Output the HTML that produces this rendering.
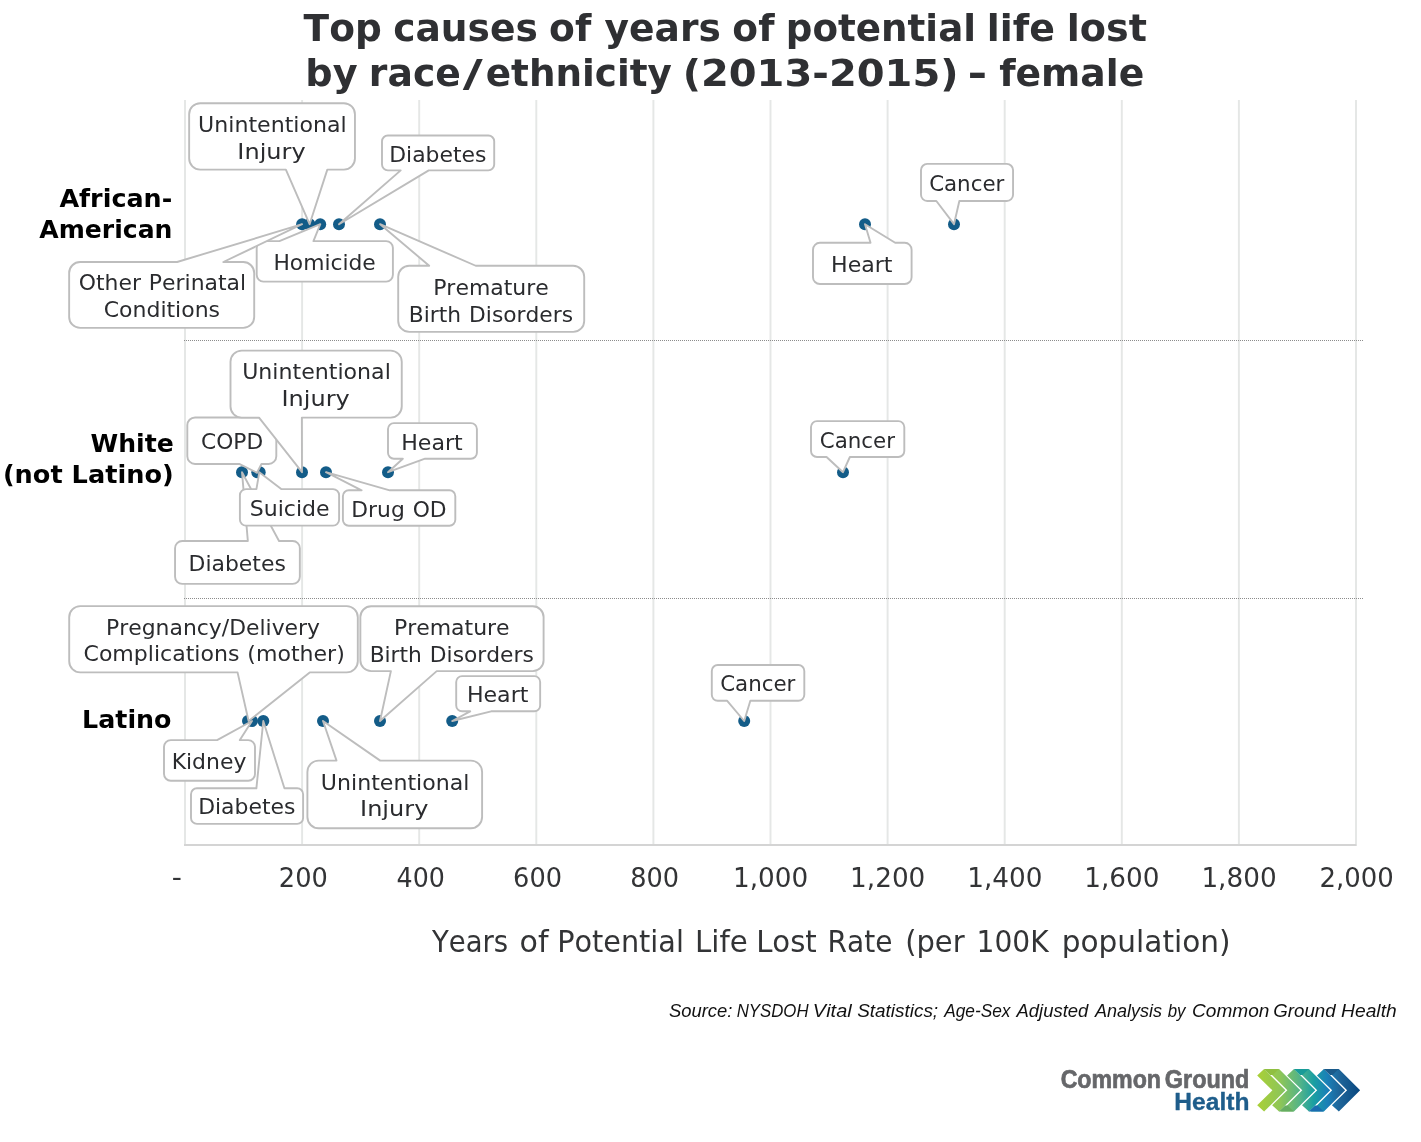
<!DOCTYPE html>
<html lang="en">
<head>
<meta charset="utf-8">
<title>Top causes of years of potential life lost by race/ethnicity (2013-2015) - female</title>
<style>
html, body { margin: 0; padding: 0; background: #ffffff; }
body { width: 1421px; height: 1142px; overflow: hidden; }
svg { display: block; }
svg text { font-kerning: none; font-variant-ligatures: none; font-feature-settings: "kern" 0, "liga" 0, "clig" 0; white-space: pre; }
</style>
</head>
<body>
<svg width="1421" height="1142" viewBox="0 0 1421 1142">
<rect x="0" y="0" width="1421" height="1142" fill="#ffffff"/>
<line x1="185.00" y1="100.0" x2="185.00" y2="845.9" stroke="#e5e7e6" stroke-width="1.95"/>
<line x1="302.10" y1="100.0" x2="302.10" y2="845.9" stroke="#e5e7e6" stroke-width="1.95"/>
<line x1="419.20" y1="100.0" x2="419.20" y2="845.9" stroke="#e5e7e6" stroke-width="1.95"/>
<line x1="536.30" y1="100.0" x2="536.30" y2="845.9" stroke="#e5e7e6" stroke-width="1.95"/>
<line x1="653.40" y1="100.0" x2="653.40" y2="845.9" stroke="#e5e7e6" stroke-width="1.95"/>
<line x1="770.50" y1="100.0" x2="770.50" y2="845.9" stroke="#e5e7e6" stroke-width="1.95"/>
<line x1="887.60" y1="100.0" x2="887.60" y2="845.9" stroke="#e5e7e6" stroke-width="1.95"/>
<line x1="1004.70" y1="100.0" x2="1004.70" y2="845.9" stroke="#e5e7e6" stroke-width="1.95"/>
<line x1="1121.80" y1="100.0" x2="1121.80" y2="845.9" stroke="#e5e7e6" stroke-width="1.95"/>
<line x1="1238.90" y1="100.0" x2="1238.90" y2="845.9" stroke="#e5e7e6" stroke-width="1.95"/>
<line x1="1356.00" y1="100.0" x2="1356.00" y2="845.9" stroke="#e5e7e6" stroke-width="1.95"/>
<line x1="184.00" y1="845.0" x2="1356.30" y2="845.0" stroke="#d4d4d4" stroke-width="2.2"/>
<line x1="184" y1="340.5" x2="1363" y2="340.5" stroke="#8c8c8c" stroke-width="1" stroke-dasharray="1 1"/>
<line x1="184" y1="598.5" x2="1363" y2="598.5" stroke="#8c8c8c" stroke-width="1" stroke-dasharray="1 1"/>
<circle cx="302.10" cy="224.20" r="6" fill="#135c88"/>
<circle cx="309.50" cy="224.20" r="6" fill="#135c88"/>
<circle cx="320.20" cy="224.20" r="6" fill="#135c88"/>
<circle cx="339.00" cy="224.20" r="6" fill="#135c88"/>
<circle cx="380.00" cy="224.20" r="6" fill="#135c88"/>
<circle cx="865.00" cy="224.20" r="6" fill="#135c88"/>
<circle cx="954.00" cy="224.20" r="6" fill="#135c88"/>
<path d="M200.22,103.20 L343.88,103.20 A11.07,11.07 0 0 1 354.95,114.27 L354.95,158.53 A11.07,11.07 0 0 1 343.88,169.60 L327.32,169.60 L309.60,224.20 L285.87,169.60 L200.22,169.60 A11.07,11.07 0 0 1 189.15,158.53 L189.15,114.27 A11.07,11.07 0 0 1 200.22,103.20 Z" fill="#fff" stroke="#bdbdbd" stroke-width="1.9" stroke-linejoin="round"/>
<text x="198.13" y="131.60" font-family='"DejaVu Sans", "Liberation Sans", sans-serif' font-weight="normal" font-style="normal" font-size="22.0" fill="#2a2b2e" textLength="148.59" lengthAdjust="spacingAndGlyphs">Unintentional</text>
<text x="237.39" y="158.60" font-family='"DejaVu Sans", "Liberation Sans", sans-serif' font-weight="normal" font-style="normal" font-size="22.0" fill="#2a2b2e" textLength="68.27" lengthAdjust="spacingAndGlyphs">Injury</text>
<path d="M387.82,135.50 L488.38,135.50 A5.82,5.82 0 0 1 494.20,141.32 L494.20,164.58 A5.82,5.82 0 0 1 488.38,170.40 L428.75,170.40 L339.00,224.20 L400.70,170.40 L387.82,170.40 A5.82,5.82 0 0 1 382.00,164.58 L382.00,141.32 A5.82,5.82 0 0 1 387.82,135.50 Z" fill="#fff" stroke="#bdbdbd" stroke-width="1.9" stroke-linejoin="round"/>
<text x="389.20" y="161.60" font-family='"DejaVu Sans", "Liberation Sans", sans-serif' font-weight="normal" font-style="normal" font-size="22.0" fill="#2a2b2e" textLength="97.32" lengthAdjust="spacingAndGlyphs">Diabetes</text>
<path d="M263.45,241.10 L279.40,241.10 L320.30,224.20 L313.45,241.10 L386.15,241.10 A6.75,6.75 0 0 1 392.90,247.85 L392.90,274.85 A6.75,6.75 0 0 1 386.15,281.60 L263.45,281.60 A6.75,6.75 0 0 1 256.70,274.85 L256.70,247.85 A6.75,6.75 0 0 1 263.45,241.10 Z" fill="#fff" stroke="#bdbdbd" stroke-width="1.9" stroke-linejoin="round"/>
<text x="273.41" y="269.60" font-family='"DejaVu Sans", "Liberation Sans", sans-serif' font-weight="normal" font-style="normal" font-size="22.0" fill="#2a2b2e" textLength="102.40" lengthAdjust="spacingAndGlyphs">Homicide</text>
<path d="M80.13,262.00 L177.10,262.00 L302.10,224.20 L223.36,262.00 L243.22,262.00 A10.98,10.98 0 0 1 254.20,272.98 L254.20,316.92 A10.98,10.98 0 0 1 243.22,327.90 L80.13,327.90 A10.98,10.98 0 0 1 69.15,316.92 L69.15,272.98 A10.98,10.98 0 0 1 80.13,262.00 Z" fill="#fff" stroke="#bdbdbd" stroke-width="1.9" stroke-linejoin="round"/>
<text x="78.75" y="289.50" font-family='"DejaVu Sans", "Liberation Sans", sans-serif' font-weight="normal" font-style="normal" font-size="22.0" fill="#2a2b2e" textLength="167.28" lengthAdjust="spacingAndGlyphs" style="word-spacing:0.99px">Other Perinatal</text>
<text x="103.74" y="316.65" font-family='"DejaVu Sans", "Liberation Sans", sans-serif' font-weight="normal" font-style="normal" font-size="22.0" fill="#2a2b2e" textLength="116.31" lengthAdjust="spacingAndGlyphs">Conditions</text>
<path d="M409.22,265.75 L429.20,265.75 L380.10,224.20 L475.70,265.75 L573.18,265.75 A11.02,11.02 0 0 1 584.20,276.77 L584.20,320.88 A11.02,11.02 0 0 1 573.18,331.90 L409.22,331.90 A11.02,11.02 0 0 1 398.20,320.88 L398.20,276.77 A11.02,11.02 0 0 1 409.22,265.75 Z" fill="#fff" stroke="#bdbdbd" stroke-width="1.9" stroke-linejoin="round"/>
<text x="433.14" y="294.90" font-family='"DejaVu Sans", "Liberation Sans", sans-serif' font-weight="normal" font-style="normal" font-size="22.0" fill="#2a2b2e" textLength="115.72" lengthAdjust="spacingAndGlyphs">Premature</text>
<text x="408.86" y="321.60" font-family='"DejaVu Sans", "Liberation Sans", sans-serif' font-weight="normal" font-style="normal" font-size="22.0" fill="#2a2b2e" textLength="164.20" lengthAdjust="spacingAndGlyphs" style="word-spacing:0.99px">Birth Disorders</text>
<path d="M819.87,242.80 L870.52,242.80 L865.00,224.20 L895.17,242.80 L904.73,242.80 A6.87,6.87 0 0 1 911.60,249.67 L911.60,277.13 A6.87,6.87 0 0 1 904.73,284.00 L819.87,284.00 A6.87,6.87 0 0 1 813.00,277.13 L813.00,249.67 A6.87,6.87 0 0 1 819.87,242.80 Z" fill="#fff" stroke="#bdbdbd" stroke-width="1.9" stroke-linejoin="round"/>
<text x="831.03" y="271.90" font-family='"DejaVu Sans", "Liberation Sans", sans-serif' font-weight="normal" font-style="normal" font-size="22.0" fill="#2a2b2e" textLength="61.50" lengthAdjust="spacingAndGlyphs">Heart</text>
<path d="M927.18,163.90 L1006.87,163.90 A6.18,6.18 0 0 1 1013.05,170.08 L1013.05,194.82 A6.18,6.18 0 0 1 1006.87,201.00 L959.35,201.00 L954.00,224.20 L936.34,201.00 L927.18,201.00 A6.18,6.18 0 0 1 921.00,194.82 L921.00,170.08 A6.18,6.18 0 0 1 927.18,163.90 Z" fill="#fff" stroke="#bdbdbd" stroke-width="1.9" stroke-linejoin="round"/>
<text x="929.13" y="190.90" font-family='"DejaVu Sans", "Liberation Sans", sans-serif' font-weight="normal" font-style="normal" font-size="22.0" fill="#2a2b2e" textLength="75.20" lengthAdjust="spacingAndGlyphs">Cancer</text>
<circle cx="242.00" cy="472.20" r="6" fill="#135c88"/>
<circle cx="257.30" cy="472.20" r="6" fill="#135c88"/>
<circle cx="259.70" cy="472.20" r="6" fill="#135c88"/>
<circle cx="302.00" cy="472.20" r="6" fill="#135c88"/>
<circle cx="326.00" cy="472.20" r="6" fill="#135c88"/>
<circle cx="388.00" cy="472.20" r="6" fill="#135c88"/>
<circle cx="843.00" cy="472.20" r="6" fill="#135c88"/>
<path d="M182.19,541.05 L247.85,541.05 L242.00,472.20 L279.05,541.05 L292.71,541.05 A7.14,7.14 0 0 1 299.85,548.19 L299.85,576.76 A7.14,7.14 0 0 1 292.71,583.90 L182.19,583.90 A7.14,7.14 0 0 1 175.05,576.76 L175.05,548.19 A7.14,7.14 0 0 1 182.19,541.05 Z" fill="#fff" stroke="#bdbdbd" stroke-width="1.9" stroke-linejoin="round"/>
<text x="188.55" y="571.45" font-family='"DejaVu Sans", "Liberation Sans", sans-serif' font-weight="normal" font-style="normal" font-size="22.0" fill="#2a2b2e" textLength="97.32" lengthAdjust="spacingAndGlyphs">Diabetes</text>
<path d="M245.98,489.10 L256.43,489.10 L259.30,472.20 L281.23,489.10 L333.02,489.10 A6.08,6.08 0 0 1 339.10,495.18 L339.10,519.52 A6.08,6.08 0 0 1 333.02,525.60 L245.98,525.60 A6.08,6.08 0 0 1 239.90,519.52 L239.90,495.18 A6.08,6.08 0 0 1 245.98,489.10 Z" fill="#fff" stroke="#bdbdbd" stroke-width="1.9" stroke-linejoin="round"/>
<text x="249.75" y="515.70" font-family='"DejaVu Sans", "Liberation Sans", sans-serif' font-weight="normal" font-style="normal" font-size="22.0" fill="#2a2b2e" textLength="79.82" lengthAdjust="spacingAndGlyphs">Suicide</text>
<path d="M195.04,417.50 L268.56,417.50 A7.74,7.74 0 0 1 276.30,425.24 L276.30,456.21 A7.74,7.74 0 0 1 268.56,463.95 L261.47,463.95 L257.00,472.80 L239.22,463.95 L195.04,463.95 A7.74,7.74 0 0 1 187.30,456.21 L187.30,425.24 A7.74,7.74 0 0 1 195.04,417.50 Z" fill="#fff" stroke="#bdbdbd" stroke-width="1.9" stroke-linejoin="round"/>
<text x="201.08" y="448.60" font-family='"DejaVu Sans", "Liberation Sans", sans-serif' font-weight="normal" font-style="normal" font-size="22.0" fill="#2a2b2e" textLength="62.10" lengthAdjust="spacingAndGlyphs">COPD</text>
<path d="M241.67,350.60 L390.58,350.60 A11.17,11.17 0 0 1 401.75,361.77 L401.75,406.43 A11.17,11.17 0 0 1 390.58,417.60 L301.85,417.60 L302.00,472.20 L259.04,417.60 L241.67,417.60 A11.17,11.17 0 0 1 230.50,406.43 L230.50,361.77 A11.17,11.17 0 0 1 241.67,350.60 Z" fill="#fff" stroke="#bdbdbd" stroke-width="1.9" stroke-linejoin="round"/>
<text x="242.20" y="378.65" font-family='"DejaVu Sans", "Liberation Sans", sans-serif' font-weight="normal" font-style="normal" font-size="22.0" fill="#2a2b2e" textLength="148.59" lengthAdjust="spacingAndGlyphs">Unintentional</text>
<text x="281.47" y="405.70" font-family='"DejaVu Sans", "Liberation Sans", sans-serif' font-weight="normal" font-style="normal" font-size="22.0" fill="#2a2b2e" textLength="68.27" lengthAdjust="spacingAndGlyphs">Injury</text>
<path d="M348.80,490.30 L361.63,490.30 L326.00,472.20 L389.73,490.30 L449.40,490.30 A5.90,5.90 0 0 1 455.30,496.20 L455.30,519.80 A5.90,5.90 0 0 1 449.40,525.70 L348.80,525.70 A5.90,5.90 0 0 1 342.90,519.80 L342.90,496.20 A5.90,5.90 0 0 1 348.80,490.30 Z" fill="#fff" stroke="#bdbdbd" stroke-width="1.9" stroke-linejoin="round"/>
<text x="351.31" y="516.55" font-family='"DejaVu Sans", "Liberation Sans", sans-serif' font-weight="normal" font-style="normal" font-size="22.0" fill="#2a2b2e" textLength="95.33" lengthAdjust="spacingAndGlyphs" style="word-spacing:0.99px">Drug OD</text>
<path d="M393.93,423.10 L470.97,423.10 A5.93,5.93 0 0 1 476.90,429.03 L476.90,452.77 A5.93,5.93 0 0 1 470.97,458.70 L425.04,458.70 L388.00,472.20 L402.82,458.70 L393.93,458.70 A5.93,5.93 0 0 1 388.00,452.77 L388.00,429.03 A5.93,5.93 0 0 1 393.93,423.10 Z" fill="#fff" stroke="#bdbdbd" stroke-width="1.9" stroke-linejoin="round"/>
<text x="401.18" y="449.50" font-family='"DejaVu Sans", "Liberation Sans", sans-serif' font-weight="normal" font-style="normal" font-size="22.0" fill="#2a2b2e" textLength="61.50" lengthAdjust="spacingAndGlyphs">Heart</text>
<path d="M816.98,421.10 L898.32,421.10 A5.98,5.98 0 0 1 904.30,427.08 L904.30,451.02 A5.98,5.98 0 0 1 898.32,457.00 L849.88,457.00 L843.00,472.20 L826.55,457.00 L816.98,457.00 A5.98,5.98 0 0 1 811.00,451.02 L811.00,427.08 A5.98,5.98 0 0 1 816.98,421.10 Z" fill="#fff" stroke="#bdbdbd" stroke-width="1.9" stroke-linejoin="round"/>
<text x="819.75" y="447.55" font-family='"DejaVu Sans", "Liberation Sans", sans-serif' font-weight="normal" font-style="normal" font-size="22.0" fill="#2a2b2e" textLength="75.20" lengthAdjust="spacingAndGlyphs">Cancer</text>
<circle cx="248.00" cy="721.00" r="6" fill="#135c88"/>
<circle cx="252.00" cy="721.00" r="6" fill="#135c88"/>
<circle cx="263.30" cy="721.00" r="6" fill="#135c88"/>
<circle cx="323.00" cy="721.00" r="6" fill="#135c88"/>
<circle cx="380.00" cy="721.00" r="6" fill="#135c88"/>
<circle cx="452.20" cy="721.00" r="6" fill="#135c88"/>
<circle cx="744.20" cy="721.00" r="6" fill="#135c88"/>
<path d="M80.25,606.10 L346.75,606.10 A11.05,11.05 0 0 1 357.80,617.15 L357.80,661.35 A11.05,11.05 0 0 1 346.75,672.40 L309.70,672.40 L248.60,721.00 L237.55,672.40 L80.25,672.40 A11.05,11.05 0 0 1 69.20,661.35 L69.20,617.15 A11.05,11.05 0 0 1 80.25,606.10 Z" fill="#fff" stroke="#bdbdbd" stroke-width="1.9" stroke-linejoin="round"/>
<text x="106.05" y="634.50" font-family='"DejaVu Sans", "Liberation Sans", sans-serif' font-weight="normal" font-style="normal" font-size="22.0" fill="#2a2b2e" textLength="214.00" lengthAdjust="spacingAndGlyphs">Pregnancy/Delivery</text>
<text x="83.51" y="661.10" font-family='"DejaVu Sans", "Liberation Sans", sans-serif' font-weight="normal" font-style="normal" font-size="22.0" fill="#2a2b2e" textLength="261.23" lengthAdjust="spacingAndGlyphs" style="word-spacing:0.99px">Complications (mother)</text>
<path d="M170.77,740.10 L217.08,740.10 L252.00,721.00 L239.83,740.10 L248.23,740.10 A6.77,6.77 0 0 1 255.00,746.87 L255.00,773.93 A6.77,6.77 0 0 1 248.23,780.70 L170.77,780.70 A6.77,6.77 0 0 1 164.00,773.93 L164.00,746.87 A6.77,6.77 0 0 1 170.77,740.10 Z" fill="#fff" stroke="#bdbdbd" stroke-width="1.9" stroke-linejoin="round"/>
<text x="171.65" y="768.85" font-family='"DejaVu Sans", "Liberation Sans", sans-serif' font-weight="normal" font-style="normal" font-size="22.0" fill="#2a2b2e" textLength="74.81" lengthAdjust="spacingAndGlyphs">Kidney</text>
<path d="M196.93,788.30 L256.39,788.30 L263.30,721.00 L284.42,788.30 L297.18,788.30 A5.93,5.93 0 0 1 303.10,794.22 L303.10,817.92 A5.93,5.93 0 0 1 297.18,823.85 L196.93,823.85 A5.93,5.93 0 0 1 191.00,817.92 L191.00,794.22 A5.93,5.93 0 0 1 196.93,788.30 Z" fill="#fff" stroke="#bdbdbd" stroke-width="1.9" stroke-linejoin="round"/>
<text x="198.15" y="814.45" font-family='"DejaVu Sans", "Liberation Sans", sans-serif' font-weight="normal" font-style="normal" font-size="22.0" fill="#2a2b2e" textLength="97.32" lengthAdjust="spacingAndGlyphs">Diabetes</text>
<path d="M318.68,760.60 L336.52,760.60 L323.00,721.00 L380.19,760.60 L470.82,760.60 A11.28,11.28 0 0 1 482.10,771.88 L482.10,817.02 A11.28,11.28 0 0 1 470.82,828.30 L318.68,828.30 A11.28,11.28 0 0 1 307.40,817.02 L307.40,771.88 A11.28,11.28 0 0 1 318.68,760.60 Z" fill="#fff" stroke="#bdbdbd" stroke-width="1.9" stroke-linejoin="round"/>
<text x="320.83" y="789.60" font-family='"DejaVu Sans", "Liberation Sans", sans-serif' font-weight="normal" font-style="normal" font-size="22.0" fill="#2a2b2e" textLength="148.59" lengthAdjust="spacingAndGlyphs">Unintentional</text>
<text x="360.09" y="816.40" font-family='"DejaVu Sans", "Liberation Sans", sans-serif' font-weight="normal" font-style="normal" font-size="22.0" fill="#2a2b2e" textLength="68.27" lengthAdjust="spacingAndGlyphs">Injury</text>
<path d="M371.15,606.30 L532.80,606.30 A10.80,10.80 0 0 1 543.60,617.10 L543.60,660.30 A10.80,10.80 0 0 1 532.80,671.10 L436.70,671.10 L380.00,721.00 L390.89,671.10 L371.15,671.10 A10.80,10.80 0 0 1 360.35,660.30 L360.35,617.10 A10.80,10.80 0 0 1 371.15,606.30 Z" fill="#fff" stroke="#bdbdbd" stroke-width="1.9" stroke-linejoin="round"/>
<text x="393.92" y="634.50" font-family='"DejaVu Sans", "Liberation Sans", sans-serif' font-weight="normal" font-style="normal" font-size="22.0" fill="#2a2b2e" textLength="115.72" lengthAdjust="spacingAndGlyphs">Premature</text>
<text x="369.64" y="661.65" font-family='"DejaVu Sans", "Liberation Sans", sans-serif' font-weight="normal" font-style="normal" font-size="22.0" fill="#2a2b2e" textLength="164.20" lengthAdjust="spacingAndGlyphs" style="word-spacing:0.99px">Birth Disorders</text>
<path d="M462.06,676.15 L534.29,676.15 A5.86,5.86 0 0 1 540.15,682.01 L540.15,705.44 A5.86,5.86 0 0 1 534.29,711.30 L491.18,711.30 L452.20,721.00 L470.19,711.30 L462.06,711.30 A5.86,5.86 0 0 1 456.20,705.44 L456.20,682.01 A5.86,5.86 0 0 1 462.06,676.15 Z" fill="#fff" stroke="#bdbdbd" stroke-width="1.9" stroke-linejoin="round"/>
<text x="466.91" y="701.65" font-family='"DejaVu Sans", "Liberation Sans", sans-serif' font-weight="normal" font-style="normal" font-size="22.0" fill="#2a2b2e" textLength="61.50" lengthAdjust="spacingAndGlyphs">Heart</text>
<path d="M717.77,665.00 L798.33,665.00 A5.97,5.97 0 0 1 804.30,670.97 L804.30,694.83 A5.97,5.97 0 0 1 798.33,700.80 L750.34,700.80 L744.20,721.00 L727.22,700.80 L717.77,700.80 A5.97,5.97 0 0 1 711.80,694.83 L711.80,670.97 A5.97,5.97 0 0 1 717.77,665.00 Z" fill="#fff" stroke="#bdbdbd" stroke-width="1.9" stroke-linejoin="round"/>
<text x="720.15" y="691.40" font-family='"DejaVu Sans", "Liberation Sans", sans-serif' font-weight="normal" font-style="normal" font-size="22.0" fill="#2a2b2e" textLength="75.20" lengthAdjust="spacingAndGlyphs">Cancer</text>
<text y="41.10" font-family='"DejaVu Sans", "Liberation Sans", sans-serif' font-weight="bold" font-style="normal" font-size="37.3" fill="#2f3033"><tspan x="303.62" textLength="78.17" lengthAdjust="spacingAndGlyphs">Top</tspan> <tspan x="393.18" textLength="144.70" lengthAdjust="spacingAndGlyphs">causes</tspan> <tspan x="549.08" textLength="42.19" lengthAdjust="spacingAndGlyphs">of</tspan> <tspan x="604.64" textLength="116.24" lengthAdjust="spacingAndGlyphs">years</tspan> <tspan x="732.39" textLength="42.08" lengthAdjust="spacingAndGlyphs">of</tspan> <tspan x="785.87" textLength="190.15" lengthAdjust="spacingAndGlyphs">potential</tspan> <tspan x="986.72" textLength="68.11" lengthAdjust="spacingAndGlyphs">life</tspan> <tspan x="1066.80" textLength="80.18" lengthAdjust="spacingAndGlyphs">lost</tspan></text>
<text y="86.10" font-family='"DejaVu Sans", "Liberation Sans", sans-serif' font-weight="bold" font-style="normal" font-size="37.3" fill="#2f3033"><tspan x="305.39" textLength="52.30" lengthAdjust="spacingAndGlyphs">by</tspan> <tspan x="368.83" textLength="91.99" lengthAdjust="spacingAndGlyphs">race</tspan><tspan x="462.70" textLength="20.00" lengthAdjust="spacingAndGlyphs">/</tspan><tspan x="485.80" textLength="186.08" lengthAdjust="spacingAndGlyphs">ethnicity</tspan> <tspan x="682.66" textLength="275.88" lengthAdjust="spacingAndGlyphs">(2013-2015)</tspan> <tspan x="967.52" textLength="19.76" lengthAdjust="spacingAndGlyphs">-</tspan> <tspan x="999.18" textLength="145.04" lengthAdjust="spacingAndGlyphs">female</tspan></text>
<text x="59.38" y="206.80" font-family='"DejaVu Sans", "Liberation Sans", sans-serif' font-weight="bold" font-style="normal" font-size="25.6" fill="#000" textLength="112.90" lengthAdjust="spacingAndGlyphs">African-</text>
<text x="39.28" y="237.90" font-family='"DejaVu Sans", "Liberation Sans", sans-serif' font-weight="bold" font-style="normal" font-size="25.6" fill="#000" textLength="133.18" lengthAdjust="spacingAndGlyphs">American</text>
<text x="90.55" y="451.80" font-family='"DejaVu Sans", "Liberation Sans", sans-serif' font-weight="bold" font-style="normal" font-size="25.6" fill="#000" textLength="83.16" lengthAdjust="spacingAndGlyphs">White</text>
<text x="2.90" y="482.60" font-family='"DejaVu Sans", "Liberation Sans", sans-serif' font-weight="bold" font-style="normal" font-size="25.6" fill="#000" textLength="170.80" lengthAdjust="spacingAndGlyphs">(not Latino)</text>
<text x="82.08" y="727.60" font-family='"DejaVu Sans", "Liberation Sans", sans-serif' font-weight="bold" font-style="normal" font-size="25.6" fill="#000" textLength="89.41" lengthAdjust="spacingAndGlyphs">Latino</text>
<text x="171.73" y="885.60" font-family='"DejaVu Sans", "Liberation Sans", sans-serif' font-weight="normal" font-style="normal" font-size="26.7" fill="#333436" textLength="10.15" lengthAdjust="spacingAndGlyphs">-</text>
<text x="278.82" y="887.00" font-family='"DejaVu Sans", "Liberation Sans", sans-serif' font-weight="normal" font-style="normal" font-size="26.7" fill="#333436" textLength="48.98" lengthAdjust="spacingAndGlyphs">200</text>
<text x="396.56" y="887.00" font-family='"DejaVu Sans", "Liberation Sans", sans-serif' font-weight="normal" font-style="normal" font-size="26.7" fill="#333436" textLength="48.32" lengthAdjust="spacingAndGlyphs">400</text>
<text x="513.11" y="887.00" font-family='"DejaVu Sans", "Liberation Sans", sans-serif' font-weight="normal" font-style="normal" font-size="26.7" fill="#333436" textLength="48.89" lengthAdjust="spacingAndGlyphs">600</text>
<text x="630.26" y="887.00" font-family='"DejaVu Sans", "Liberation Sans", sans-serif' font-weight="normal" font-style="normal" font-size="26.7" fill="#333436" textLength="48.84" lengthAdjust="spacingAndGlyphs">800</text>
<text x="733.01" y="887.00" font-family='"DejaVu Sans", "Liberation Sans", sans-serif' font-weight="normal" font-style="normal" font-size="26.7" fill="#333436" textLength="75.23" lengthAdjust="spacingAndGlyphs">1,000</text>
<text x="850.11" y="887.00" font-family='"DejaVu Sans", "Liberation Sans", sans-serif' font-weight="normal" font-style="normal" font-size="26.7" fill="#333436" textLength="75.23" lengthAdjust="spacingAndGlyphs">1,200</text>
<text x="967.21" y="887.00" font-family='"DejaVu Sans", "Liberation Sans", sans-serif' font-weight="normal" font-style="normal" font-size="26.7" fill="#333436" textLength="75.23" lengthAdjust="spacingAndGlyphs">1,400</text>
<text x="1084.31" y="887.00" font-family='"DejaVu Sans", "Liberation Sans", sans-serif' font-weight="normal" font-style="normal" font-size="26.7" fill="#333436" textLength="75.23" lengthAdjust="spacingAndGlyphs">1,600</text>
<text x="1201.41" y="887.00" font-family='"DejaVu Sans", "Liberation Sans", sans-serif' font-weight="normal" font-style="normal" font-size="26.7" fill="#333436" textLength="75.23" lengthAdjust="spacingAndGlyphs">1,800</text>
<text x="1319.50" y="887.00" font-family='"DejaVu Sans", "Liberation Sans", sans-serif' font-weight="normal" font-style="normal" font-size="26.7" fill="#333436" textLength="74.22" lengthAdjust="spacingAndGlyphs">2,000</text>
<text y="952.00" font-family='"DejaVu Sans", "Liberation Sans", sans-serif' font-weight="normal" font-style="normal" font-size="29.4" fill="#333436"><tspan x="431.95" textLength="76.19" lengthAdjust="spacingAndGlyphs">Years</tspan> <tspan x="519.54" textLength="28.99" lengthAdjust="spacingAndGlyphs">of</tspan> <tspan x="557.18" textLength="126.71" lengthAdjust="spacingAndGlyphs">Potential</tspan> <tspan x="695.03" textLength="52.73" lengthAdjust="spacingAndGlyphs">Life</tspan> <tspan x="756.14" textLength="60.66" lengthAdjust="spacingAndGlyphs">Lost</tspan> <tspan x="827.55" textLength="64.95" lengthAdjust="spacingAndGlyphs">Rate</tspan> <tspan x="905.21" textLength="59.39" lengthAdjust="spacingAndGlyphs">(per</tspan> <tspan x="976.51" textLength="72.10" lengthAdjust="spacingAndGlyphs">100K</tspan> <tspan x="1061.72" textLength="168.82" lengthAdjust="spacingAndGlyphs">population)</tspan></text>
<text y="1017.40" font-family='"Liberation Sans", sans-serif' font-weight="normal" font-style="italic" font-size="18.6" fill="#111"><tspan x="668.98" textLength="63.46" lengthAdjust="spacingAndGlyphs">Source:</tspan> <tspan x="736.68" textLength="71.90" lengthAdjust="spacingAndGlyphs">NYSDOH</tspan> <tspan x="812.88" textLength="38.77" lengthAdjust="spacingAndGlyphs">Vital</tspan> <tspan x="857.16" textLength="80.97" lengthAdjust="spacingAndGlyphs">Statistics;</tspan> <tspan x="944.15" textLength="66.34" lengthAdjust="spacingAndGlyphs">Age-Sex</tspan> <tspan x="1016.51" textLength="71.80" lengthAdjust="spacingAndGlyphs">Adjusted</tspan> <tspan x="1094.89" textLength="67.08" lengthAdjust="spacingAndGlyphs">Analysis</tspan> <tspan x="1167.66" textLength="17.79" lengthAdjust="spacingAndGlyphs">by</tspan> <tspan x="1192.05" textLength="77.32" lengthAdjust="spacingAndGlyphs">Common</tspan> <tspan x="1273.28" textLength="62.33" lengthAdjust="spacingAndGlyphs">Ground</tspan> <tspan x="1341.11" textLength="55.57" lengthAdjust="spacingAndGlyphs">Health</tspan></text>
<text stroke="#66676a" stroke-width="0.7" stroke-linejoin="round" y="1087.50" font-family='"Liberation Sans", sans-serif' font-weight="bold" font-style="normal" font-size="25.6" fill="#66676a"><tspan x="1060.65" textLength="100.39" lengthAdjust="spacingAndGlyphs">Common</tspan> <tspan x="1164.84" textLength="84.50" lengthAdjust="spacingAndGlyphs">Ground</tspan></text>
<text x="1174.36" y="1110.40" font-family='"Liberation Sans", sans-serif' font-weight="bold" font-style="normal" font-size="24.6" fill="#1e5d8b" textLength="75.07" lengthAdjust="spacingAndGlyphs" stroke="#1e5d8b" stroke-width="0.35" stroke-linejoin="round">Health</text>
<linearGradient id="lg" gradientUnits="userSpaceOnUse" x1="1257.2" y1="0" x2="1360.0" y2="0"><stop offset="0" stop-color="#aad036"/><stop offset="0.22" stop-color="#8fc656"/><stop offset="0.42" stop-color="#52b389"/><stop offset="0.55" stop-color="#1a9fa2"/><stop offset="0.68" stop-color="#1a80b8"/><stop offset="0.8" stop-color="#1f6599"/><stop offset="1" stop-color="#09477f"/></linearGradient>
<polygon points="1257.18,1075.62 1264.10,1069.04 1285.39,1090.32 1264.10,1111.60 1257.18,1105.19 1272.38,1090.32" fill="url(#lg)"/>
<polygon points="1266.05,1069.04 1279.05,1069.04 1300.34,1090.32 1279.05,1111.60 1272.13,1105.19 1287.33,1090.32" fill="url(#lg)"/>
<polygon points="1287.08,1075.62 1294.00,1069.04 1315.29,1090.32 1294.00,1111.60 1281.00,1111.60 1302.28,1090.32" fill="url(#lg)"/>
<polygon points="1295.95,1069.04 1308.95,1069.04 1330.24,1090.32 1308.95,1111.60 1302.03,1105.19 1317.23,1090.32" fill="url(#lg)"/>
<polygon points="1316.98,1075.62 1323.90,1069.04 1345.19,1090.32 1323.90,1111.60 1310.90,1111.60 1332.18,1090.32" fill="url(#lg)"/>
<polygon points="1325.84,1069.04 1338.85,1069.04 1360.14,1090.32 1338.85,1111.60 1331.93,1105.19 1347.13,1090.32" fill="url(#lg)"/>
<polygon points="1263.85,1069.04 1278.80,1069.04 1272.72,1075.12 1270.19,1075.12" fill="#90bf41"/>
<polygon points="1278.80,1111.60 1293.75,1111.60 1287.67,1105.52 1285.14,1105.52" fill="#66ad62"/>
<polygon points="1293.75,1069.04 1308.70,1069.04 1302.62,1075.12 1300.08,1075.12" fill="#199b98"/>
<polygon points="1308.70,1111.60 1323.65,1111.60 1317.57,1105.52 1315.03,1105.52" fill="#1a6db0"/>
<polygon points="1323.65,1069.04 1338.60,1069.04 1332.52,1075.12 1329.98,1075.12" fill="#1a5a8a"/>
</svg>
</body>
</html>
